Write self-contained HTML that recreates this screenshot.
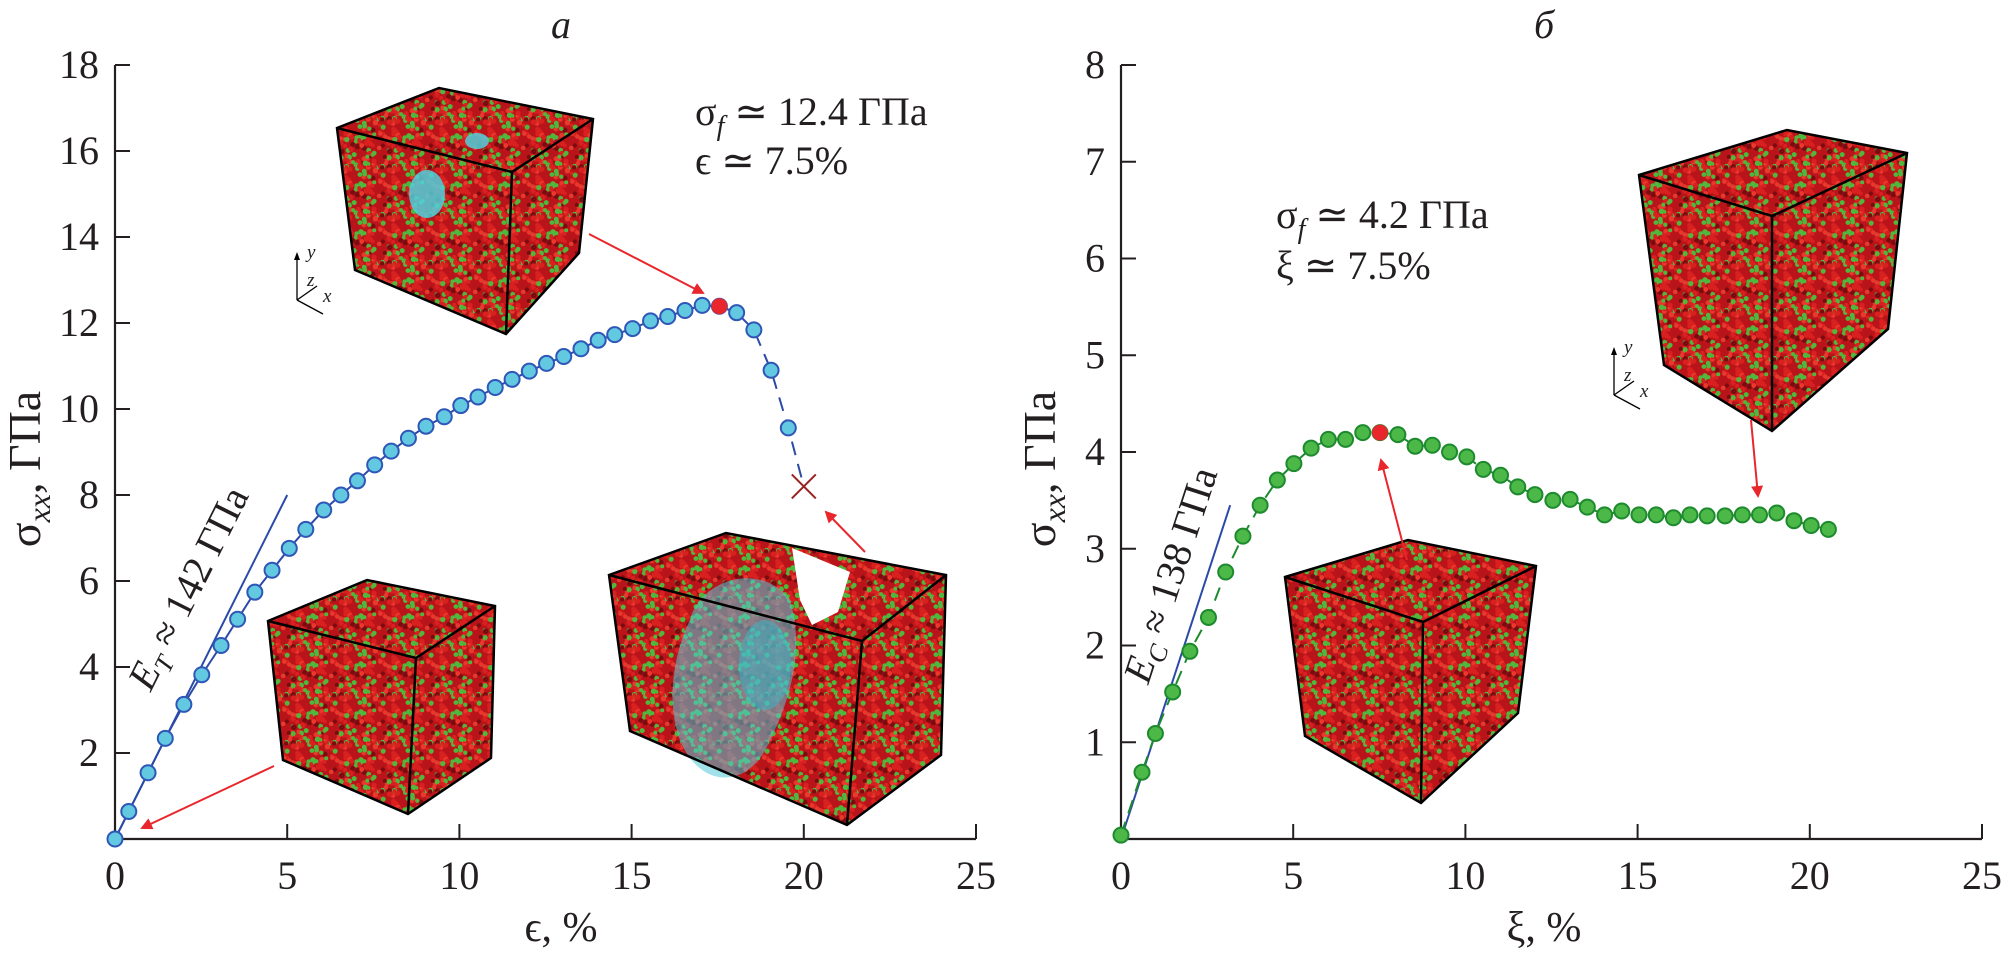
<!DOCTYPE html>
<html><head><meta charset="utf-8">
<style>
html,body{margin:0;padding:0;background:#fff;}
svg{display:block;}
text{font-family:"Liberation Serif","Times New Roman",serif;fill:#231f20;}
</style></head>
<body>
<svg id="fig" width="2008" height="955" viewBox="0 0 2008 955" xmlns="http://www.w3.org/2000/svg" font-family="Liberation Serif, serif">
<defs>
<pattern id="atoms" patternUnits="userSpaceOnUse" width="48" height="48"><rect width="48" height="48" fill="#b8141a"/><g id="atomdots"></g></pattern>
<marker id="ah" markerWidth="12" markerHeight="12" refX="10" refY="6" orient="auto" markerUnits="userSpaceOnUse">
<path d="M0,0 L12,6 L0,12 z" fill="#e8262b"/>
</marker>
</defs>
<g id="left"></g>
<g id="right"></g>
</svg>
<script>
// ---- panel a data ----
const aStrain = [0,0.4,0.96,1.46,2.0,2.52,3.08,3.56,4.06,4.56,5.06,5.54,6.06,6.56,7.04,7.54,8.02,8.52,9.03,9.56,10.04,10.54,11.04,11.53,12.03,12.53,13.03,13.53,14.03,14.51,15.03,15.55,16.05,16.55,17.05,17.55,18.05,18.55,19.05,19.55];
const aStress = [0,0.64,1.54,2.34,3.13,3.82,4.5,5.11,5.74,6.25,6.76,7.2,7.65,8.0,8.33,8.7,9.02,9.32,9.6,9.82,10.08,10.28,10.5,10.69,10.88,11.06,11.22,11.4,11.6,11.73,11.87,12.05,12.15,12.29,12.41,12.39,12.24,11.84,10.9,9.56];
const aPeak = [17.55,12.39];
const aFail = [20.0,8.2];
const aFit = [[0,0],[5.0,8.0]];
const aXTicks = [0,5,10,15,20,25];
const aYTicks = [2,4,6,8,10,12,14,16,18];
// ---- panel b data ----
const bStrain = [0,0.61,1.0,1.5,2.0,2.54,3.04,3.54,4.04,4.54,5.02,5.52,6.02,6.52,7.02,7.52,8.04,8.54,9.04,9.54,10.04,10.52,11.02,11.52,12.02,12.54,13.04,13.54,14.04,14.54,15.04,15.54,16.04,16.52,17.02,17.54,18.04,18.54,19.04,19.54,20.04,20.54];
const bStress = [0.04,0.69,1.09,1.52,1.94,2.29,2.76,3.13,3.45,3.71,3.88,4.04,4.13,4.13,4.2,4.2,4.18,4.06,4.07,4.0,3.95,3.82,3.76,3.64,3.56,3.5,3.51,3.43,3.35,3.39,3.35,3.35,3.32,3.35,3.34,3.34,3.35,3.35,3.37,3.29,3.24,3.2];
const bPeak = [7.52,4.2];
const bFit = [[0,0],[3.17,3.45]];
const bXTicks = [0,5,10,15,20,25];
const bYTicks = [1,2,3,4,5,6,7,8];

const NS="http://www.w3.org/2000/svg";
function mk(parent,tag,attrs,txt){const e=document.createElementNS(NS,tag);for(const k in attrs)e.setAttribute(k,attrs[k]);if(txt!==undefined)e.textContent=txt;parent.appendChild(e);return e;}

// decorative atom texture
(function(){
  const g=document.getElementById('atomdots');
  let s=12345;const rnd=()=>{s=(s*1103515245+12345)%2147483648;return s/2147483648;};
  for(let i=0;i<110;i++){
    const x=rnd()*48,y=rnd()*48,r=1.8+rnd()*1.0;
    const t=rnd();
    const col=t<0.35?'#4fb83c':(t<0.45?'#7a0c10':(t<0.85?'#d9201f':'#e83a2c'));
    for(const dx of [0,-48,48])for(const dy of [0,-48,48]){
      if(x+dx<-4||x+dx>52||y+dy<-4||y+dy>52)continue;
      mk(g,'circle',{cx:(x+dx).toFixed(1),cy:(y+dy).toFixed(1),r:r.toFixed(1),fill:col});
    }
  }
})();

function cube(g,pts,name){
  const [ftl,btl,btr,ftr,fbr,fbl,bbr]=pts;
  const hull=[ftl,btl,btr,bbr,fbr,fbl].map(p=>p.join(',')).join(' ');
  const c=mk(g,'g',{});
  
  
  mk(c,'polygon',{points:hull,fill:'url(#atoms)'});
  c.hull=hull;
  c.edges=()=>{
    mk(c,'polygon',{points:hull,fill:'none',stroke:'#000','stroke-width':2.5});
    mk(c,'polyline',{points:[ftl,ftr,btr].map(p=>p.join(',')).join(' '),fill:'none',stroke:'#000','stroke-width':2.5});
    mk(c,'line',{x1:ftr[0],y1:ftr[1],x2:fbr[0],y2:fbr[1],stroke:'#000','stroke-width':2.5});
  };
  return c;
}
function axesGlyph(g,x,y,name){
  const c=mk(g,'g',{});
  
  
  mk(c,'line',{x1:x,y1:y+50,x2:x,y2:y+8,stroke:'#000','stroke-width':1.3});
  mk(c,'path',{d:`M${x-3},${y+10} L${x},${y+2} L${x+3},${y+10}z`,fill:'#000'});
  mk(c,'line',{x1:x,y1:y+50,x2:x+20,y2:y+36,stroke:'#000','stroke-width':1.3});
  mk(c,'line',{x1:x,y1:y+50,x2:x+26,y2:y+64,stroke:'#000','stroke-width':1.3});
  mk(c,'text',{x:x+10,y:y+8,'font-size':19,'font-style':'italic'},'y');
  mk(c,'text',{x:x+10,y:y+36,'font-size':19,'font-style':'italic'},'z');
  mk(c,'text',{x:x+26,y:y+52,'font-size':19,'font-style':'italic'},'x');
}
function arrow(g,x1,y1,x2,y2,name){
  const l=mk(g,'line',{x1,y1,x2,y2,stroke:'#e8262b','stroke-width':2,'marker-end':'url(#ah)'});
  
  
}

function panel(g,cfg){
  const X=v=>cfg.x0+(v/25)*(cfg.x1-cfg.x0);
  const Y=v=>cfg.y0-(v/cfg.ymax)*(cfg.y0-cfg.y1);
  const ax=mk(g,'path',{d:`M${cfg.x0},${cfg.y1} V${cfg.y0} H${cfg.x1}`,fill:'none',stroke:'#231f20','stroke-width':2.2});
  
  
  cfg.xt.forEach(t=>{
    if(t>0) mk(g,'line',{x1:X(t),y1:cfg.y0,x2:X(t),y2:cfg.y0-15,stroke:'#231f20','stroke-width':2});
    const tl=mk(g,'text',{x:X(t),y:cfg.y0+50,'font-size':40,'text-anchor':'middle'},String(t));
    
    
  });
  cfg.yt.forEach(t=>{
    mk(g,'line',{x1:cfg.x0,y1:Y(t),x2:cfg.x0+15,y2:Y(t),stroke:'#231f20','stroke-width':2});
    const tl=mk(g,'text',{x:cfg.x0-16,y:Y(t)+13,'font-size':40,'text-anchor':'end'},String(t));
    
    
  });
  const ti=mk(g,'text',{x:cfg.tx,y:38,'font-size':40,'font-style':'italic','text-anchor':'middle'},cfg.title);
  
  
  const yl=mk(g,'text',{x:0,y:0,'font-size':46,'text-anchor':'middle',transform:`translate(${cfg.ylx},${469}) rotate(-90)`});
  
  
  mk(yl,'tspan',{},'σ');
  mk(yl,'tspan',{'font-style':'italic','font-size':32,dy:10},'xx');
  mk(yl,'tspan',{dy:-10},', ГПа');
  const xl=mk(g,'text',{x:cfg.tx,y:941,'font-size':42,'text-anchor':'middle'},cfg.xlabel);
  
  
  return {X,Y};
}

// ===== panel a =====
const L=document.getElementById('left');
const c1=cube(L,[[337,128],[439,88],[593,119],[512,172],[506,334],[355,270],[579,253]],'inset-cube-top');
const cy1=mk(c1,'ellipse',{cx:427,cy:194,rx:18,ry:24,fill:'#4fd0dc',opacity:0.85});


mk(c1,'ellipse',{cx:477,cy:141,rx:12,ry:8,fill:'#4fd0dc',opacity:0.85});
c1.edges();
axesGlyph(L,297,250,'axes-glyph-a');
const c2=cube(L,[[268,621],[367,580],[495,606],[416,658],[408,814],[283,760],[491,758]],'inset-cube-initial');
c2.edges();
const big=cube(L,[[609,575],[726,533],[946,575],[862,641],[847,825],[630,731],[941,755]],'inset-cube-fractured');
mk(big,'path',{d:'M690,620 C700,580 760,560 790,600 C805,650 790,700 770,740 C750,790 700,790 680,740 C665,700 675,650 690,620z',fill:'#52c8d8',opacity:0.55});
mk(big,'ellipse',{cx:765,cy:665,rx:26,ry:45,fill:'#3ab8c8',opacity:0.5});
mk(big,'polygon',{points:'792,548 850,572 838,612 812,625 800,600',fill:'#fff'});
big.edges();

const A=panel(L,{x0:115,x1:976,y0:839,y1:65,ymax:18,xt:aXTicks,yt:aYTicks,title:'а',tx:561,ylx:40,xlabel:'ϵ, %'});
const fa=mk(L,'line',{x1:A.X(aFit[0][0]),y1:A.Y(aFit[0][1]),x2:A.X(aFit[1][0]),y2:A.Y(aFit[1][1]),stroke:'#2b4aa8','stroke-width':2});


const solidIdx=aStrain.findIndex(v=>v>=aPeak[0]);
const solidPts=aStrain.slice(0,solidIdx+1).map((v,i)=>A.X(v)+','+A.Y(aStress[i])).join(' ');
const sl=mk(L,'polyline',{points:solidPts,fill:'none',stroke:'#2b4aa8','stroke-width':2});


let dpts=[];for(let i=solidIdx;i<aStrain.length;i++)dpts.push(A.X(aStrain[i])+','+A.Y(aStress[i]));
dpts.push(A.X(aFail[0])+','+A.Y(aFail[1]));
const dl=mk(L,'polyline',{points:dpts.join(' '),fill:'none',stroke:'#2b4aa8','stroke-width':2,'stroke-dasharray':'14,9'});


aStrain.forEach((v,i)=>{
  const c=mk(L,'circle',{cx:A.X(v),cy:A.Y(aStress[i]),r:7.5,fill:'#62c9e0',stroke:'#2f57b8','stroke-width':2});
  
  
});
const pa=mk(L,'circle',{cx:A.X(aPeak[0]),cy:A.Y(aPeak[1]),r:8,fill:'#e8262b'});


const fx=A.X(aFail[0]),fy=A.Y(aFail[1]);
const xm=mk(L,'path',{d:`M${fx-12},${fy-12}L${fx+12},${fy+12}M${fx+12},${fy-12}L${fx-12},${fy+12}`,stroke:'#9a2222','stroke-width':2});


arrow(L,589,234,703,293,'arrow-to-peak');
arrow(L,274,766,142,828,'arrow-to-origin');
arrow(L,865,552,826,512,'arrow-to-failure');
const ta=mk(L,'text',{x:695,y:125,'font-size':40},'');


mk(ta,'tspan',{},'σ');mk(ta,'tspan',{'font-style':'italic','font-size':28,dy:10},'f');mk(ta,'tspan',{dy:-10},' ≃ 12.4 ГПа');
const tb=mk(L,'text',{x:695,y:174,'font-size':40},'ϵ ≃ 7.5%');


const et=mk(L,'text',{x:0,y:0,'font-size':40,'text-anchor':'middle',transform:'translate(200,594) rotate(-63.4)'});


mk(et,'tspan',{'font-style':'italic'},'E');mk(et,'tspan',{'font-style':'italic','font-size':26,dy:8},'T');mk(et,'tspan',{dy:-8},' ≈ 142 ГПа');

// ===== panel b =====
const R=document.getElementById('right');
const c3=cube(R,[[1639,175],[1787,130],[1907,153],[1772,216],[1772,431],[1664,365],[1888,329]],'inset-cube-top-right');
c3.edges();
axesGlyph(R,1614,345,'axes-glyph-b');
const c4=cube(R,[[1285,577],[1408,540],[1536,566],[1423,622],[1421,803],[1305,736],[1518,713]],'inset-cube-bottom');
c4.edges();
const B=panel(R,{x0:1121,x1:1982,y0:839,y1:65,ymax:8,xt:bXTicks,yt:bYTicks,title:'б',tx:1544,ylx:1055,xlabel:'ξ, %'});
const fb=mk(R,'line',{x1:B.X(bFit[0][0]),y1:B.Y(bFit[0][1]),x2:B.X(bFit[1][0]),y2:B.Y(bFit[1][1]),stroke:'#2b4aa8','stroke-width':2});


const bl=mk(R,'polyline',{points:bStrain.map((v,i)=>B.X(v)+','+B.Y(bStress[i])).join(' '),fill:'none',stroke:'#1e8a2e','stroke-width':2,'stroke-dasharray':'14,9'});


bStrain.forEach((v,i)=>{
  const c=mk(R,'circle',{cx:B.X(v),cy:B.Y(bStress[i]),r:7.5,fill:'#4cb848',stroke:'#1e8a2e','stroke-width':2});
  
  
});
const pb=mk(R,'circle',{cx:B.X(bPeak[0]),cy:B.Y(bPeak[1]),r:8,fill:'#e8262b'});


arrow(R,1407,560,1381,460,'arrow-to-peak-b');
arrow(R,1751,420,1758,496,'arrow-to-plateau');
const tc=mk(R,'text',{x:1276,y:228,'font-size':40},'');


mk(tc,'tspan',{},'σ');mk(tc,'tspan',{'font-style':'italic','font-size':28,dy:10},'f');mk(tc,'tspan',{dy:-10},' ≃ 4.2 ГПа');
const td=mk(R,'text',{x:1276,y:279,'font-size':40},'ξ ≃ 7.5%');


const ec=mk(R,'text',{x:0,y:0,'font-size':40,'text-anchor':'middle',transform:'translate(1183,579) rotate(-71.9)'});


mk(ec,'tspan',{'font-style':'italic'},'E');mk(ec,'tspan',{'font-style':'italic','font-size':26,dy:8},'C');mk(ec,'tspan',{dy:-8},' ≈ 138 ГПа');
</script>
</body></html>
